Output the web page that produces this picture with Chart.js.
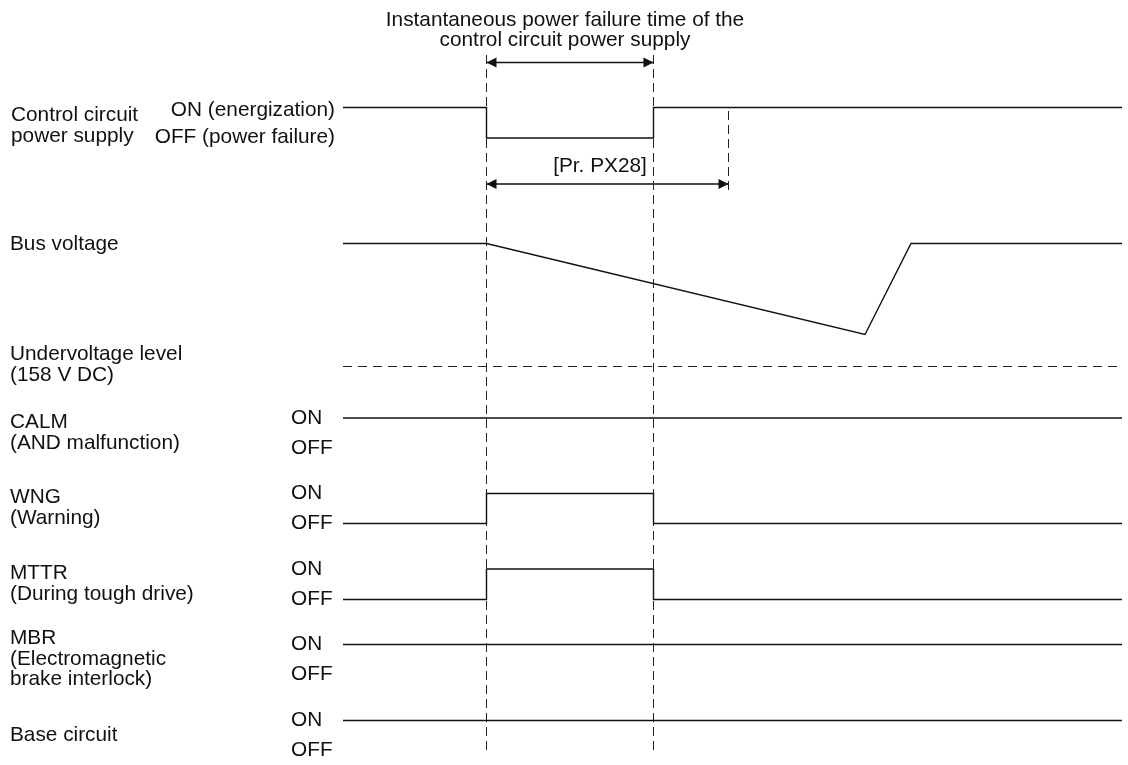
<!DOCTYPE html>
<html lang="en">
<head>
    <meta charset="UTF-8">
    <title>Instantaneous power failure - timing chart</title>
    <script src="https://cdn.jsdelivr.net/npm/chart.js"></script>
    <style>
        html, body { margin: 0; padding: 0; background: #fff; }
        #wrap { width: 1128px; height: 765px; }
    </style>
</head>
<body>
<div id="wrap"><canvas id="timing" width="1128" height="765"></canvas></div>

<script>
    // event times (x axis uses the drawing width as time base)
    const tStart = 343, tFail = 486.5, tRestore = 653.5, tPX28 = 728.5;
    const tBusMin = 865, tBusBack = 911, tEnd = 1122;

    // digital signals: 1 = ON, 0 = OFF
    const pulseTimes = [tStart, tFail, tFail, tRestore, tRestore, tEnd];
    const flatTimes = [tStart, tEnd];
    const ctrlLevels = [1, 1, 0, 0, 1, 1];
    const calmLevels = [1, 1];
    const wngLevels = [0, 0, 1, 1, 0, 0];
    const mttrLevels = [0, 0, 1, 1, 0, 0];
    const mbrLevels = [1, 1];
    const baseLevels = [1, 1];

    // bus voltage: 1 = normal, 0 = undervoltage level (158 V DC)
    const busTimes = [tStart, tFail, tBusMin, tBusBack, tEnd];
    const busLevels = [1, 1, 0.26, 1, 1];
    const underLevels = [0, 0];

    // vertical position of each row: [ON / high, OFF / low]
    const rows = {
        ctrl: [107.5, 138],
        bus: [243.5, 366.5],
        calm: [418, 448],
        wng: [493.5, 523.5],
        mttr: [569, 599.5],
        mbr: [644.5, 674.5],
        base: [720.5, 750.5]
    };

    const FONT = '20.8px "Liberation Sans", Arial, sans-serif';
    const INK = '#111';

    // texts: [text, x, y, align]
    const texts = [
        ['Instantaneous power failure time of the', 565, 20, 'center'],
        ['control circuit power supply', 565, 40, 'center'],
        ['[Pr. PX28]', 600, 166, 'center'],
        ['Control circuit', 11, 115, 'left'],
        ['power supply', 11, 136, 'left'],
        ['ON (energization)', 335, 110, 'right'],
        ['OFF (power failure)', 335, 137, 'right'],
        ['Bus voltage', 10, 244, 'left'],
        ['Undervoltage level', 10, 354, 'left'],
        ['(158 V DC)', 10, 375, 'left'],
        ['CALM', 10, 422, 'left'],
        ['(AND malfunction)', 10, 443, 'left'],
        ['WNG', 10, 497, 'left'],
        ['(Warning)', 10, 518, 'left'],
        ['MTTR', 10, 573, 'left'],
        ['(During tough drive)', 10, 594, 'left'],
        ['MBR', 10, 638, 'left'],
        ['(Electromagnetic', 10, 659, 'left'],
        ['brake interlock)', 10, 679, 'left'],
        ['Base circuit', 10, 735, 'left']
    ];
    ['calm', 'wng', 'mttr', 'mbr', 'base'].forEach(function (k) {
        texts.push(['ON', 291, rows[k][0], 'left']);
        texts.push(['OFF', 291, rows[k][1], 'left']);
    });

    function toPoints(times, levels, row) {
        return times.map(function (t, i) {
            return { x: t, y: row[1] + (row[0] - row[1]) * levels[i] };
        });
    }

    function signal(times, levels, row) {
        return {
            data: toPoints(times, levels, row),
            borderColor: INK,
            borderWidth: 1.4
        };
    }

    function dashed(times, levels, row, dash) {
        return {
            data: toPoints(times, levels, row),
            borderColor: '#222',
            borderWidth: 1,
            borderDash: dash
        };
    }

    function arrow(x1, x2, y) {
        return {
            data: [{ x: x1, y: y }, { x: x2, y: y }],
            borderColor: INK,
            borderWidth: 1.3,
            arrow: true
        };
    }

    // arrow heads and text labels
    const annotate = {
        id: 'annotate',
        afterDatasetsDraw: function (chart) {
            const ctx = chart.ctx;
            const xs = chart.scales.x, ys = chart.scales.y;
            ctx.save();
            ctx.fillStyle = INK;
            chart.data.datasets.forEach(function (ds) {
                if (!ds.arrow) return;
                const y = ys.getPixelForValue(ds.data[0].y);
                const a = xs.getPixelForValue(ds.data[0].x);
                const b = xs.getPixelForValue(ds.data[1].x);
                [[a, 1], [b, -1]].forEach(function (p) {
                    ctx.beginPath();
                    ctx.moveTo(p[0], y);
                    ctx.lineTo(p[0] + p[1] * 10, y - 5);
                    ctx.lineTo(p[0] + p[1] * 10, y + 5);
                    ctx.closePath();
                    ctx.fill();
                });
            });
            ctx.font = FONT;
            ctx.textBaseline = 'middle';
            texts.forEach(function (t) {
                ctx.textAlign = t[3];
                ctx.fillText(t[0], xs.getPixelForValue(t[1]), ys.getPixelForValue(t[2]));
            });
            ctx.restore();
        }
    };

    // vertical marker lines span [top, bottom]
    const fullSpan = [55, 750];
    const px28Span = [108, 190];

    const datasets = [
        signal(pulseTimes, ctrlLevels, rows.ctrl),
        signal(busTimes, busLevels, rows.bus),
        signal(flatTimes, calmLevels, rows.calm),
        signal(pulseTimes, wngLevels, rows.wng),
        signal(pulseTimes, mttrLevels, rows.mttr),
        signal(flatTimes, mbrLevels, rows.mbr),
        signal(flatTimes, baseLevels, rows.base),
        dashed(flatTimes, underLevels, rows.bus, [9, 6]),
        dashed([tFail, tFail], [1, 0], fullSpan.slice().reverse(), [9, 5]),
        dashed([tRestore, tRestore], [1, 0], fullSpan.slice().reverse(), [9, 5]),
        dashed([tPX28, tPX28], [1, 0], px28Span.slice().reverse(), [9, 5]),
        arrow(tFail, tRestore, 62.5),
        arrow(tFail, tPX28, 184)
    ];

    new Chart(document.getElementById('timing'), {
        type: 'line',
        data: { datasets: datasets },
        options: {
            responsive: false,
            animation: false,
            events: [],
            layout: { padding: 0 },
            elements: {
                point: { radius: 0 },
                line: { tension: 0, fill: false, borderCapStyle: 'butt' }
            },
            datasets: { line: { clip: false } },
            plugins: { legend: { display: false }, tooltip: { enabled: false } },
            scales: {
                x: { type: 'linear', min: 0, max: 1128, display: false },
                y: { type: 'linear', min: 0, max: 765, reverse: true, display: false }
            }
        },
        plugins: [annotate]
    });
</script>
</body>
</html>
